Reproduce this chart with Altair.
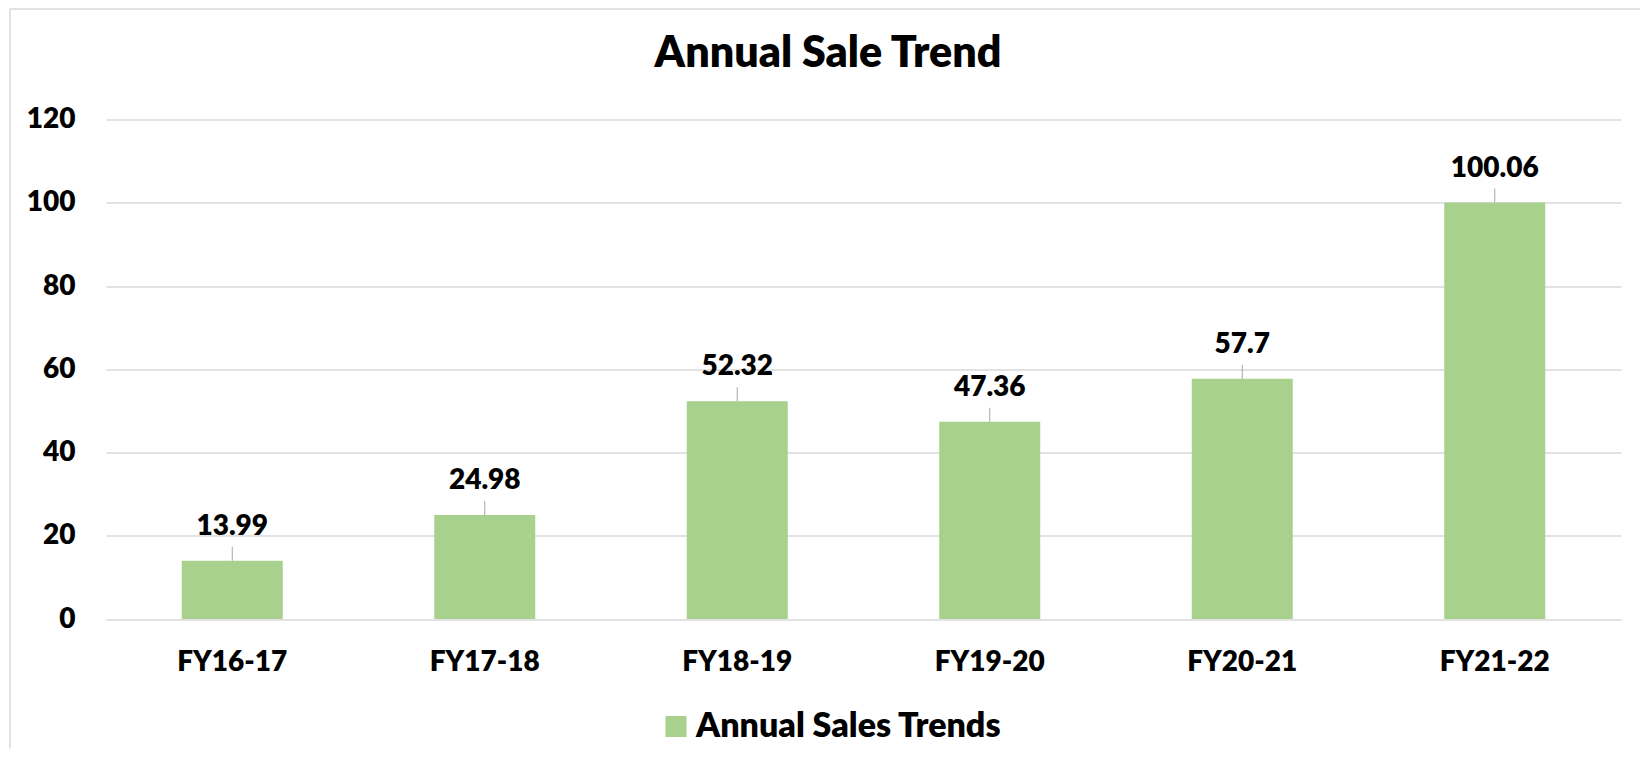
import altair as alt
import pandas as pd

categories = ["FY16-17", "FY17-18", "FY18-19", "FY19-20", "FY20-21", "FY21-22"]
sales = [13.99, 24.98, 52.32, 47.36, 57.7, 100.06]
series_name = "Annual Sales Trends"
y_ticks = [0, 20, 40, 60, 80, 100, 120]

df = pd.DataFrame({
    "year": categories,
    "sales": sales,
    "series": [series_name] * len(categories),
})

FONT = "Lato"
WEIGHT = 800
BLACK = "#000000"
GRID = "#d9d9d9"
GREEN = "#A9D18E"

x_enc = alt.X(
    "year:N", sort=categories, title=None,
    scale=alt.Scale(paddingInner=0.6, paddingOuter=0.3),
    axis=alt.Axis(labelAngle=0, labelFont=FONT, labelFontSize=28, labelFontWeight=WEIGHT,
                  labelColor=BLACK, labelPadding=51, labelBaseline="alphabetic",
                  ticks=False, tickSize=0, domain=False, grid=False),
)
y_enc = alt.Y(
    "sales:Q", title=None,
    scale=alt.Scale(domain=[0, 120], nice=False),
    axis=alt.Axis(values=y_ticks, labelFont=FONT, labelFontSize=28, labelFontWeight=WEIGHT,
                  labelColor=BLACK, labelPadding=31, ticks=False, tickSize=0, domain=False,
                  grid=True, gridColor=GRID, gridWidth=1.3),
)

base = alt.Chart(df)

bars = base.mark_bar().encode(
    x=x_enc,
    y=y_enc,
    color=alt.Color(
        "series:N", title=None,
        scale=alt.Scale(range=[GREEN]),
        legend=alt.Legend(orient="none", legendX=553, legendY=590, symbolType="square",
                          symbolSize=441, symbolStrokeWidth=0, labelFont=FONT,
                          labelFontSize=34, labelFontWeight=WEIGHT, labelColor=BLACK,
                          labelOffset=3, padding=0, labelLimit=600),
    ),
)

leaders = base.mark_rule(color="#a6a6a6", strokeWidth=1, y2Offset=-14).encode(
    x=alt.X("year:N", sort=categories),
    y=alt.Y("sales:Q"),
    y2=alt.Y2("sales"),
)

labels = base.mark_text(font=FONT, fontSize=28, fontWeight=WEIGHT, color=BLACK,
                        baseline="alphabetic", align="center", dy=-26).encode(
    x=alt.X("year:N", sort=categories),
    y=alt.Y("sales:Q"),
    text=alt.Text("sales:Q"),
)

frame_src = alt.Chart(pd.DataFrame({"k": [0]}))
frame_left = frame_src.mark_rule(color=GRID, strokeWidth=1.5).encode(
    x=alt.value(-96), y=alt.value(-110.5), y2=alt.value(629)
)
frame_top = frame_src.mark_rule(color=GRID, strokeWidth=1.5).encode(
    x=alt.value(-96), x2=alt.value(1534), y=alt.value(-110.5)
)

chart = alt.layer(frame_left, frame_top, bars, leaders, labels).properties(
    width=1515,
    height=499.5,
    padding={"left": 98, "top": 111.5, "right": 19, "bottom": 130},
    autosize=alt.AutoSizeParams(type="none"),
    title=alt.TitleParams(text="Annual Sale Trend", font=FONT, fontSize=43, fontWeight=WEIGHT,
                          color=BLACK, anchor="middle", frame="group", offset=-111, dx=-35.5,
                          baseline="bottom"),
).configure_view(stroke=None)

chart.save("out.html", embed_options={"renderer": "svg", "actions": False})
